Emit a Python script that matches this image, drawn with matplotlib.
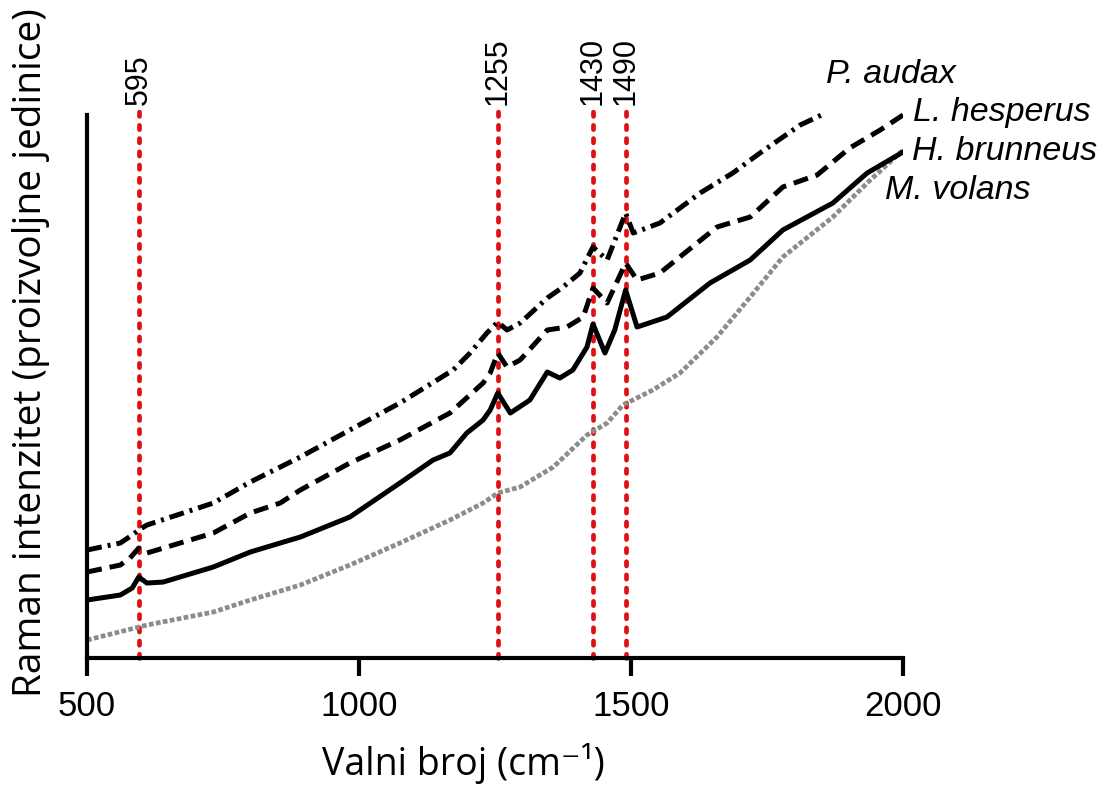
import numpy as np
import matplotlib.pyplot as plt

plt.rcParams['font.family'] = ['Liberation Sans', 'DejaVu Sans']

# Raman spectra (intensity in arbitrary units)
wn_hb = [500, 561, 583, 595, 610, 640, 732, 800, 855, 892, 983, 1075, 1136, 1167, 1198,
         1228, 1241, 1255, 1278, 1314, 1346, 1369, 1393, 1419, 1430, 1452, 1470, 1490,
         1511, 1566, 1645, 1719, 1779, 1871, 1934, 2000]
int_hb = [58, 63, 70, 81, 75, 76, 91, 106, 115, 121, 141, 175, 198, 205, 225,
          238, 248, 265, 245, 258, 286, 280, 288, 311, 334, 305, 328, 368,
          331, 341, 375, 398, 428, 455, 485, 506]

wn_lh = [500, 561, 579, 595, 610, 732, 800, 855, 892, 983, 1075, 1167, 1228, 1241, 1255,
         1272, 1296, 1346, 1382, 1412, 1430, 1456, 1490, 1511, 1553, 1658, 1719, 1779,
         1842, 1902, 1958, 2000]
int_lh = [86, 93, 100, 110, 105, 125, 145, 155, 168, 195, 218, 245, 275, 285, 305,
          291, 298, 328, 331, 341, 370, 355, 395, 378, 385, 431, 441, 471,
          483, 510, 528, 543]

wn_pa = [500, 561, 583, 595, 610, 732, 800, 892, 983, 1075, 1173, 1204, 1235, 1255, 1272,
         1296, 1346, 1375, 1406, 1430, 1456, 1490, 1504, 1553, 1627, 1687, 1737, 1811, 1858]
int_pa = [108, 115, 123, 128, 133, 155, 176, 201, 228, 255, 288, 305, 325, 336, 328,
          335, 360, 371, 385, 411, 398, 445, 425, 435, 465, 485, 505, 533, 545]

wn_mv = [500, 610, 732, 800, 892, 983, 1075, 1167, 1228, 1255, 1296, 1357, 1419, 1456,
         1485, 1540, 1590, 1658, 1719, 1779, 1871, 1934, 2000]
int_mv = [18, 33, 46, 58, 73, 93, 115, 138, 155, 165, 171, 191, 223, 235,
          253, 268, 285, 321, 361, 401, 441, 475, 508]

peaks = [595, 1255, 1430, 1490]
species = ['P. audax', 'L. hesperus', 'H. brunneus', 'M. volans']
label_x = [1858, 2018, 2016, 1967]
label_y = [583, 545, 506, 468]

fig = plt.figure(figsize=(11.09, 7.86), dpi=100)
ax = fig.add_axes([0.0785, 0.1628, 0.7358, 0.6998])

# Peak markers
for p in peaks:
    ax.plot([p, p], [0, 550], color='#e01010', lw=3.4, linestyle=(0, (0.9, 1.9)),
            dash_capstyle='round', clip_on=False, zorder=1)
    ax.text(p, 553, str(p), rotation=90, ha='center', va='bottom', fontsize=22)

ax.plot(wn_mv, int_mv, color='#8c8c8c', lw=3.4, linestyle=(0, (1.0, 0.5)), zorder=2)
ax.plot(wn_hb, int_hb, color='k', lw=3.6, solid_joinstyle='round', zorder=3)
ax.plot(wn_lh, int_lh, color='k', lw=3.6, linestyle=(0, (3, 1.6)), zorder=3)
ax.plot(wn_pa, int_pa, color='k', lw=3.6, linestyle=(0, (3, 1.2, 0.6, 1.2)), zorder=3)

for name, x, y in zip(species, label_x, label_y):
    ax.text(x, y, name, fontsize=24.5, style='italic', ha='left', va='center',
            clip_on=False)

ax.set_xlim(500, 2000)
ax.set_ylim(0, 550)
ax.set_xticks([500, 1000, 1500, 2000])
ax.set_yticks([])
ax.spines['top'].set_visible(False)
ax.spines['right'].set_visible(False)
ax.spines['left'].set_bounds(0, 543)
ax.spines['left'].set_linewidth(3)
ax.spines['bottom'].set_linewidth(3)
ax.tick_params(axis='x', length=13, width=3, labelsize=25, pad=10)

ax.set_xlabel('Valni broj (cm\u207b\u00b9)', fontsize=27,
              family=['Open Sans', 'DejaVu Sans'])
ax.xaxis.set_label_coords(0.461, -0.155)
ax.set_ylabel('Raman intenzitet (proizvoljne jedinice)', fontsize=28,
              family=['Open Sans', 'DejaVu Sans'])
ax.yaxis.set_label_coords(-0.045, 0.556)

fig.savefig('out.png', dpi=100)
